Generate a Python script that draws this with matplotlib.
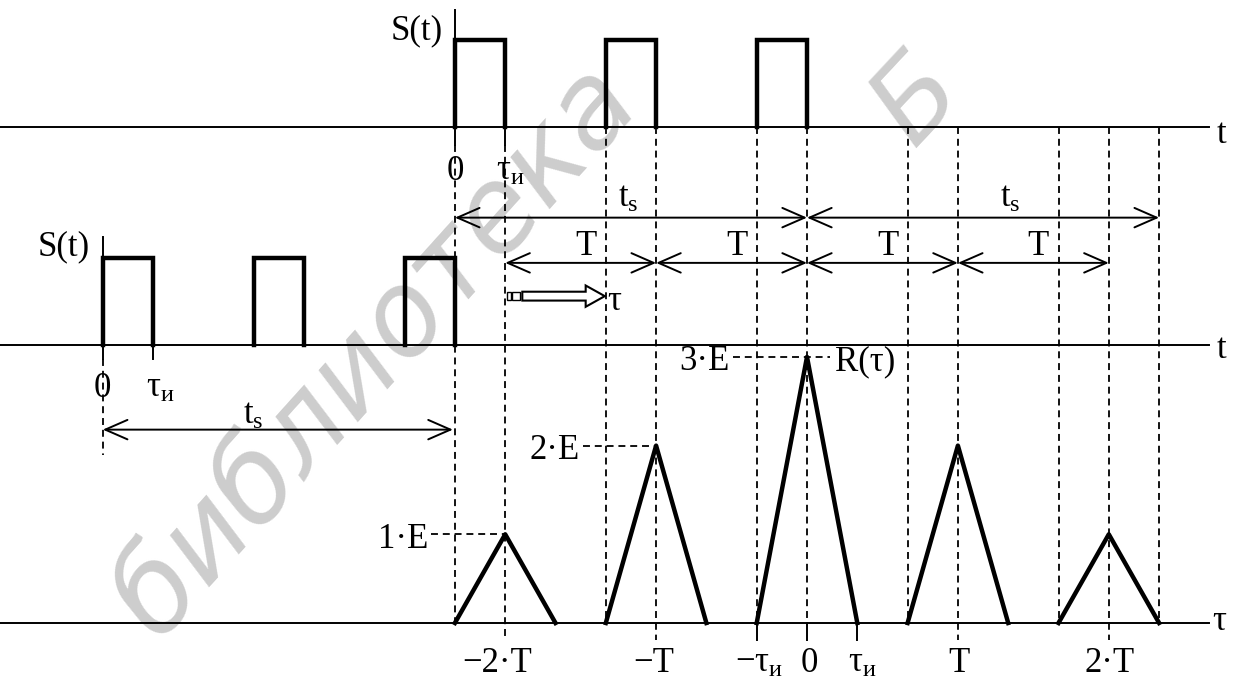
import numpy as np
import matplotlib.pyplot as plt
from matplotlib.patches import FancyArrow, Rectangle

plt.rcParams['font.family'] = ['Liberation Serif', 'DejaVu Serif']
plt.rcParams['mathtext.fontset'] = 'custom'
plt.rcParams['mathtext.rm'] = 'Liberation Serif'
plt.rcParams['mathtext.it'] = 'Liberation Serif:italic'
plt.rcParams['lines.scale_dashes'] = False

# signal parameters (units: tau_i along x, E along y)
tau_i = 1.0
T = 3.0
E = 1.0
ts = 2 * T + tau_i
pulse_starts = [0.0, T, 2 * T]
corr_centers = [-2 * T, -T, 0.0, T, 2 * T]
corr_peaks = [1 * E, 2 * E, 3 * E, 2 * E, 1 * E]
peak_labels = ['1·E', '2·E', '3·E']
bottom_labels = ['−2·T', '−T', r'$-\mathrm{τ}_{\mathrm{и}}$', '0', r'$\mathrm{τ}_{\mathrm{и}}$', 'T', '2·T']
bottom_pos = [-2 * T, -T, -tau_i, 0.0, tau_i, T, 2 * T]

# layout
y_top, y_mid, y_bot = 5.59, 3.13, 0.0
amp = 0.98
x_end = 8.0
FS = 25
LW_AX, LW_SIG, LW_D = 1.4, 3.2, 1.3
DASH = (0, (5, 3.5))
TAU_I = r'$\mathrm{τ}_{\mathrm{и}}$'
T_S = r'$\mathrm{t}_{\mathrm{s}}$'

fig = plt.figure(figsize=(12.4, 6.78), dpi=100)
ax = fig.add_axes([0, 0, 1, 1])
ax.set_xlim(-807 / 50.3, 433 / 50.3)
ax.set_ylim(-55 / 88.7, 623 / 88.7)
ax.axis('off')

# watermark
ax.text(-12.9, -0.2, 'библиотека', rotation=48, rotation_mode='anchor',
        ha='left', va='baseline', fontsize=84, color='#cdcdcd', style='italic',
        family='DejaVu Sans', zorder=0)
ax.text(2.2, 5.9, 'Б', rotation=47, ha='center', va='center', fontsize=80,
        color='#cdcdcd', style='italic', family='DejaVu Sans', zorder=0)

# axes lines
for yb in (y_top, y_mid, y_bot):
    ax.plot([ax.get_xlim()[0], x_end], [yb, yb], color='k', lw=LW_AX)
ax.plot([-ts, -ts], [y_top, y_top + 1.32], color='k', lw=LW_AX)
ax.plot([-2 * ts, -2 * ts], [y_mid, y_mid + 1.22], color='k', lw=LW_AX)


def pulses(origin, base):
    for s in pulse_starts:
        x0 = origin + s
        ax.plot([x0, x0, x0 + tau_i, x0 + tau_i], [base, base + amp, base + amp, base],
                color='k', lw=LW_SIG, solid_joinstyle='miter')


pulses(-ts, y_top)
pulses(-2 * ts, y_mid)

# correlation triangles
for c, h in zip(corr_centers, corr_peaks):
    ax.plot([c - tau_i, c, c + tau_i], [y_bot, h, y_bot], color='k', lw=LW_SIG)

# dashed verticals
dash_x = sorted(set([c - tau_i for c in corr_centers] + corr_centers + [2 * T + tau_i]))
for x in dash_x:
    low = -0.19 if x in (-2 * T, -T, T, 2 * T) else y_bot
    top = y_top - 0.2 if x in (-ts, -ts + tau_i) else y_top
    ax.plot([x, x], [top, low], color='k', lw=LW_D, ls=DASH)
# solid ticks
for x in (-ts, -ts + tau_i):
    ax.plot([x, x], [y_top, y_top - 0.2], color='k', lw=LW_AX)
for x in (-2 * ts, -2 * ts + tau_i):
    ax.plot([x, x], [y_mid, y_mid - 0.15], color='k', lw=LW_AX)
ax.plot([-2 * ts, -2 * ts], [y_mid - 0.15, 1.89], color='k', lw=LW_D, ls=DASH)
for x in (-tau_i, 0.0, tau_i):
    ax.plot([x, x], [y_bot, -0.19], color='k', lw=LW_AX)

# peak level dashed lines and labels
lab_right = [-7.53, -4.51, -1.53]
for h, lab, xr, c in zip(corr_peaks[:3], peak_labels, lab_right, corr_centers[:3]):
    x_stop = 0.46 if c == 0 else c
    ax.plot([xr + 0.05, x_stop], [h, h], color='k', lw=LW_D, ls=DASH)
    ax.text(xr, h - 0.15, lab, ha='right', va='baseline', fontsize=FS)
ax.text(0.56, 3 * E - 0.15, 'R(τ)', ha='left', va='baseline', fontsize=FS)

# dimension arrows
arr = dict(arrowstyle='<->,head_length=0.8,head_width=0.35', lw=1.4, color='k',
           shrinkA=0, shrinkB=0, mutation_scale=20)


def dim(x0, x1, y):
    ax.annotate('', xy=(x1, y), xytext=(x0, y), arrowprops=arr)


y_ts, y_T, y_ts2 = 4.57, 4.06, 2.18
dim(-ts, 0.0, y_ts)
dim(0.0, ts, y_ts)
for k in range(4):
    dim(-2 * T + k * T, -T + k * T, y_T)
dim(-2 * ts, -ts - 0.04, y_ts2)

ax.text(-3.55, 4.69, T_S, ha='center', va='baseline', fontsize=FS)
ax.text(4.05, 4.69, T_S, ha='center', va='baseline', fontsize=FS)
ax.text(-11.0, 2.24, T_S, ha='center', va='baseline', fontsize=FS)
for k in range(4):
    ax.text(-1.5 * T + k * T + 0.1, 4.15, 'T', ha='center', va='baseline', fontsize=FS)

# hollow shift arrow
ax.add_patch(Rectangle((-5.96, 3.64), 0.08, 0.09, fc='white', ec='k', lw=1.0))
ax.add_patch(Rectangle((-5.86, 3.64), 0.16, 0.09, fc='white', ec='k', lw=1.0))
ax.add_patch(FancyArrow(-5.66, 3.685, 1.64, 0.0, width=0.1, head_width=0.24,
                        head_length=0.38, length_includes_head=True,
                        fc='white', ec='k', lw=1.5))
ax.text(-3.98, 3.53, 'τ', ha='left', va='baseline', fontsize=FS)

# signal labels
ax.text(-7.24, 6.58, 'S(t)', ha='right', va='baseline', fontsize=FS)
ax.text(-14.25, 4.14, 'S(t)', ha='right', va='baseline', fontsize=FS)
ax.text(-ts, 5.0, '0', ha='center', va='baseline', fontsize=FS)
ax.text(-ts + tau_i + 0.1, 5.0, TAU_I, ha='center', va='baseline', fontsize=FS)
ax.text(-2 * ts, 2.55, '0', ha='center', va='baseline', fontsize=FS)
ax.text(-2 * ts + tau_i + 0.15, 2.55, TAU_I, ha='center', va='baseline', fontsize=FS)

# axis names
ax.text(8.15, 5.41, 't', ha='left', va='baseline', fontsize=FS)
ax.text(8.15, 2.99, 't', ha='left', va='baseline', fontsize=FS)
ax.text(8.05, -0.08, 'τ', ha='left', va='baseline', fontsize=FS)

# bottom tick labels
offs = [-0.16, -0.04, 0.05, 0.04, 0.1, 0.02, 0.02]
for x, lab, o in zip(bottom_pos, bottom_labels, offs):
    ax.text(x + o, -0.55, lab, ha='center', va='baseline', fontsize=FS)

fig.savefig('out.png', dpi=100)
